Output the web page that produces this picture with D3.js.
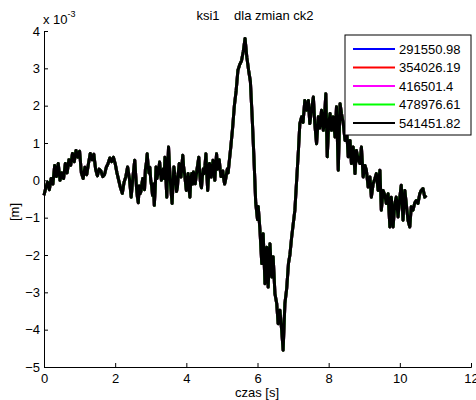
<!DOCTYPE html>
<html>
<head>
<meta charset="utf-8">
<script src="https://cdn.jsdelivr.net/npm/d3@7"></script>
<style>
  body { margin: 0; background: #fff; }
  text { font-family: "Liberation Sans", Arial, sans-serif; font-size: 13px; fill: #000; }
</style>
</head>
<body>
<div id="chart-area"></div>
<script>
// time samples [s]
const czas = [
  0.00, 0.05, 0.10, 0.15, 0.20, 0.25, 0.30, 0.35, 0.40, 0.45, 0.50, 0.55, 0.60, 0.65, 0.70, 0.75,
  0.80, 0.85, 0.90, 0.95, 1.00, 1.05, 1.10, 1.15, 1.20, 1.25, 1.30, 1.35, 1.40, 1.45, 1.50, 1.55,
  1.60, 1.65, 1.70, 1.75, 1.80, 1.85, 1.90, 1.95, 2.00, 2.05, 2.10, 2.15, 2.20, 2.25, 2.30, 2.35,
  2.40, 2.45, 2.50, 2.55,
  2.600, 2.625, 2.650, 2.675, 2.700, 2.725, 2.750, 2.775, 2.800, 2.825, 2.850, 2.875, 2.900, 2.925, 2.950, 2.975,
  3.000, 3.025, 3.050, 3.075, 3.100, 3.125, 3.150, 3.175, 3.200, 3.225, 3.250, 3.275, 3.300, 3.325, 3.350, 3.375,
  3.400, 3.425, 3.450, 3.475, 3.500, 3.525, 3.550, 3.575, 3.600, 3.625, 3.650, 3.675, 3.700, 3.725, 3.750, 3.775,
  3.800, 3.825, 3.850, 3.875, 3.900, 3.925, 3.950, 3.975, 4.000, 4.025, 4.050, 4.075, 4.100, 4.125, 4.150, 4.175,
  4.200, 4.225, 4.250, 4.275, 4.300, 4.325, 4.350, 4.375, 4.400, 4.425, 4.450, 4.475, 4.500, 4.525, 4.550, 4.575,
  4.600, 4.625, 4.650, 4.675, 4.700, 4.725, 4.750, 4.775, 4.800, 4.825, 4.850, 4.875, 4.900, 4.925, 4.950, 4.975,
  5.000, 5.025, 5.050, 5.075, 5.100, 5.125, 5.150, 5.175,
  5.20, 5.25, 5.30, 5.35, 5.40, 5.45, 5.50, 5.55,
  5.60, 5.65, 5.70, 5.75, 5.80, 5.85, 5.90, 5.95, 6.00, 6.02, 6.07, 6.12, 6.16, 6.21, 6.26, 6.30,
  6.35, 6.40, 6.44, 6.49, 6.54, 6.58, 6.63, 6.68, 6.72, 6.77, 6.82, 6.87, 6.91, 6.96, 7.00, 7.05,
  7.10, 7.15, 7.19, 7.24, 7.28, 7.33, 7.38, 7.43, 7.47, 7.52, 7.57, 7.61, 7.66, 7.71, 7.75, 7.80,
  7.85, 7.89, 7.92, 7.96, 8.00, 8.04, 8.08, 8.13, 8.18, 8.22, 8.27, 8.32, 8.36, 8.41, 8.46, 8.50,
  8.55, 8.60, 8.64, 8.69, 8.74, 8.78, 8.83, 8.88, 8.92, 8.97, 9.02, 9.06, 9.11, 9.16, 9.20, 9.25,
  9.30, 9.34, 9.39, 9.44, 9.48, 9.53, 9.58, 9.62, 9.67, 9.72, 9.76, 9.81, 9.86, 9.90, 9.95, 10.00,
  10.04, 10.09, 10.14, 10.18, 10.23, 10.28, 10.32, 10.37, 10.42, 10.46, 10.51, 10.56, 10.60, 10.65,
  10.70, 10.74
];

// ksi1 displacement [m x 1e-3] (all five curves overlap)
const ksi1 = [
  -0.40, -0.20, -0.05, -0.25, 0.05, -0.10, 0.40, 0.10, 0.45, 0.00, 0.20, 0.05, 0.45, 0.20, 0.55, 0.40,
  0.72, 0.50, 0.80, 0.62, 0.78, 0.20, 0.05, 0.35, 0.15, 0.45, 0.72, 0.55, 0.70, 0.30, 0.12, 0.30,
  0.25, 0.10, 0.15, 0.35, 0.45, 0.60, 0.50, 0.62, 0.45, 0.20, 0.00, -0.20, -0.35, -0.05, 0.10, 0.36,
  0.05, -0.45, 0.10, 0.54,
  -0.20, -0.45, -0.60, -0.15, -0.36, -0.30, -0.10, 0.05, -0.18, -0.25, 0.30, 0.45, 0.71, 0.40, 0.20, 0.35,
  0.00, -0.15, -0.40, -0.10, -0.67, -0.20, 0.36, 0.05, 0.18, 0.30, 0.49, 0.20, 0.00, 0.15, 0.30, 0.05,
  0.62, 0.10, -0.45, 0.30, 0.89, 0.40, 0.00, -0.35, -0.62, -0.10, 0.36, 0.15, 0.00, -0.30, -0.18, 0.20,
  0.45, 0.25, 0.09, 0.40, 0.67, 0.35, 0.18, -0.05, -0.27, -0.10, 0.18, -0.20, -0.45, 0.00, 0.18, -0.10,
  0.22, 0.05, -0.09, 0.10, 0.30, 0.45, 0.62, 0.20, -0.09, -0.20, 0.10, 0.30, 0.18, 0.40, 0.71, 0.20,
  -0.27, 0.10, 0.45, 0.25, 0.09, 0.30, 0.54, 0.25, 0.00, 0.40, 0.71, 0.30, 0.45, 0.55, 0.30, 0.10,
  0.18, 0.25, 0.05, -0.10, 0.00, 0.15, 0.30, 0.20,
  0.45, 0.90, 1.40, 2.00, 2.40, 2.95, 3.10, 3.20,
  3.45, 3.80, 3.30, 2.95, 2.65, 1.70, 0.60, -0.60, -1.05, -0.70, -1.34, -2.23, -1.43, -2.77, -1.79, -2.86,
  -1.70, -2.59, -2.05, -3.04, -3.30, -3.84, -3.48, -4.02, -4.55, -3.30, -2.90, -2.23, -2.00, -1.52, -1.20, -0.80,
  0.00, 0.80, 1.52, 1.70, 1.55, 2.14, 1.88, 2.14, 1.52, 1.90, 2.23, 1.52, 0.98, 1.70, 1.40, 1.88,
  1.34, 1.80, 2.32, 0.63, 1.50, 1.79, 1.34, 1.70, 1.16, 1.97, 0.27, 2.05, 1.79, 1.52, 1.07, 1.43,
  0.63, 1.07, 0.45, 0.89, 0.18, 0.80, 0.55, 0.45, 0.89, 0.09, 0.40, 0.27, -0.18, 0.09, -0.45, -0.09,
  0.05, 0.18, -0.27, 0.27, -0.80, -0.27, -0.40, -0.62, -0.36, -1.25, -0.45, -1.25, -0.62, -0.45, -0.98, -0.45,
  -0.13, -1.07, -0.27, -0.62, -1.07, -1.25, -0.71, -0.80, -0.60, -0.54, -0.62, -0.36, -0.27, -0.22,
  -0.45, -0.40
];

const ck2 = ["291550.98", "354026.19", "416501.4", "478976.61", "541451.82"];
const colors = ["#0000ff", "#ff0000", "#ff00ff", "#00ff00", "#000000"];
const xTicks = [0, 2, 4, 6, 8, 10, 12];
const yTicks = [-5, -4, -3, -2, -1, 0, 1, 2, 3, 4];

const width = 476, height = 400;
const svg = d3.select("#chart-area").append("svg")
    .attr("width", width)
    .attr("height", height);

const x = d3.scaleLinear().domain([0, 12]).range([44, 471]);
const y = d3.scaleLinear().domain([-5, 4]).range([367, 31]);

const data = czas.map((t, i) => ({t: t, v: ksi1[i]}));
const line = d3.line().x(d => x(d.t)).y(d => y(d.v));

// all five series share the same visible trace, black drawn last
ck2.forEach((name, i) => {
    svg.append("path")
        .datum(data)
        .attr("fill", "none")
        .attr("stroke", colors[i])
        .attr("stroke-width", 3)
        .attr("stroke-linejoin", "round")
        .attr("d", line);
});

// axes (MATLAB style, ticks inward)
const xAxis = svg.append("g")
    .attr("transform", `translate(0,${y(-5)})`)
    .call(d3.axisTop(x).tickValues(xTicks).tickSize(4).tickFormat(d3.format("d")));
xAxis.selectAll("text").attr("y", 11).attr("dy", "0.35em");
const yAxis = svg.append("g")
    .attr("transform", `translate(${x(0)},0)`)
    .call(d3.axisRight(y).tickValues(yTicks).tickSize(4).tickFormat(d3.format("d")));
yAxis.selectAll("text").attr("x", -4).attr("text-anchor", "end");

svg.selectAll(".domain").attr("stroke", "#000");
svg.selectAll(".tick line").attr("stroke", "#000");
svg.selectAll(".tick text").attr("font-size", 13).attr("font-family", "Liberation Sans, Arial, sans-serif");

// exponent label
const ex = svg.append("text").attr("x", 43).attr("y", 24);
ex.append("tspan").text("x 10");
ex.append("tspan").attr("dy", -7).attr("font-size", 9).text("-3");

// title and labels
svg.append("text")
    .attr("x", 255).attr("y", 20)
    .attr("text-anchor", "middle")
    .style("white-space", "pre")
    .text("ksi1    dla zmian ck2");

svg.append("text")
    .attr("x", 257).attr("y", 397)
    .attr("text-anchor", "middle")
    .text("czas [s]");

svg.append("text")
    .attr("transform", "translate(19,212) rotate(-90)")
    .attr("text-anchor", "middle")
    .text("[m]");

// legend
const legend = svg.append("g");
legend.append("rect")
    .attr("x", 345).attr("y", 35)
    .attr("width", 126).attr("height", 100)
    .attr("fill", "#fff").attr("stroke", "#000");

ck2.forEach((name, i) => {
    const ly = 49 + i * 18.5;
    legend.append("line")
        .attr("x1", 353).attr("x2", 395)
        .attr("y1", ly).attr("y2", ly)
        .attr("stroke", colors[i]).attr("stroke-width", 2);
    legend.append("text")
        .attr("x", 399).attr("y", ly).attr("dy", "0.35em")
        .text(name);
});
</script>
</body>
</html>
